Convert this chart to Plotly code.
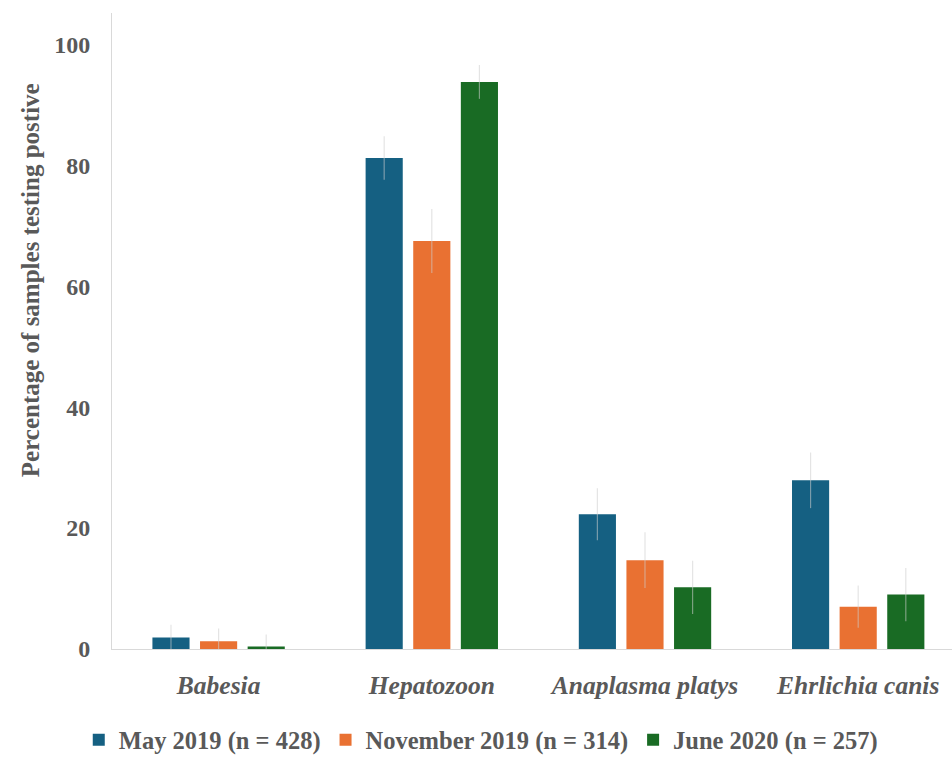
import plotly.graph_objects as go

# Pathogen groups on the x axis
categories = ["Babesia", "Hepatozoon", "Anaplasma platys", "Ehrlichia canis"]

# Percentage of samples testing positive, per sampling round
may2019 = [1.9, 81.2, 22.3, 27.9]
may2019_err = [2.1, 3.6, 4.3, 4.6]

nov2019 = [1.3, 67.5, 14.7, 7.0]
nov2019_err = [2.1, 5.3, 4.6, 3.5]

jun2020 = [0.4, 93.8, 10.2, 9.0]
jun2020_err = [2.0, 2.8, 4.4, 4.4]

series_names = ["May 2019 (n = 428)", "November 2019 (n = 314)", "June 2020 (n = 257)"]
y_ticks = [0, 20, 40, 60, 80, 100]

FONT = "Liberation Serif, Times New Roman, serif"
TEXT_COLOR = "#595959"
colors = ["#156082", "#E97132", "#196B24"]

fig = go.Figure()
for name, vals, errs, col in zip(series_names,
                                 [may2019, nov2019, jun2020],
                                 [may2019_err, nov2019_err, jun2020_err],
                                 colors):
    fig.add_trace(go.Bar(
        x=categories, y=vals, name=name,
        marker=dict(color=col, line=dict(width=0)),
        error_y=dict(type="data", array=errs, visible=True,
                     color="rgba(205,205,205,0.55)", thickness=1.2, width=0),
    ))

fig.update_layout(
    width=952, height=758,
    margin=dict(l=112, r=0, t=13, b=109, autoexpand=False),
    paper_bgcolor="white", plot_bgcolor="white",
    barmode="group", bargap=0.33, bargroupgap=0.22,
    font=dict(family=FONT, color=TEXT_COLOR),
    showlegend=True,
    legend=dict(orientation="h", xref="container", x=0.505, xanchor="center",
                y=-0.143, yanchor="middle",
                font=dict(family=FONT, size=24.5, color=TEXT_COLOR, weight="bold"),
                traceorder="normal"),
)

fig.update_xaxes(
    range=[-0.5, 3.44], tickangle=0,
    showline=True, linecolor="#d9d9d9", linewidth=1,
    showgrid=False, zeroline=False,
    ticks="outside", ticklen=0, ticklabelstandoff=13,
    tickfont=dict(family=FONT, size=25.5, color=TEXT_COLOR, weight="bold", style="italic"),
)
fig.update_yaxes(
    range=[0, 105.2],
    tickvals=y_ticks,
    showline=True, linecolor="#d9d9d9", linewidth=1,
    showgrid=False, zeroline=False,
    ticks="outside", ticklen=0, ticklabelstandoff=16,
    tickfont=dict(family=FONT, size=24, color=TEXT_COLOR, weight="bold"),
)

# Axis title placed beside the tick labels
fig.add_annotation(
    text="Percentage of samples testing postive",
    xref="paper", x=0, xshift=-82, xanchor="center",
    yref="y", y=61, yanchor="middle",
    textangle=-90, showarrow=False,
    font=dict(family=FONT, size=25, color=TEXT_COLOR, weight="bold"),
)

fig.write_html("out.html")
